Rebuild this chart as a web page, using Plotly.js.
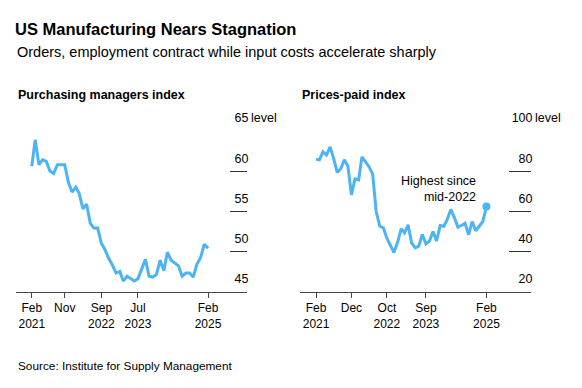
<!DOCTYPE html>
<html>
<head>
<meta charset="utf-8">
<script src="https://cdn.plot.ly/plotly-3.0.1.min.js"></script>
<style>
  html, body { margin: 0; padding: 0; background: #fff; }
  #chart { width: 582px; height: 388px; }
</style>
</head>
<body>
<div id="chart"></div>
<script>
// ---- Data (monthly, Feb 2021 - Feb 2025) ----
const months = [
  '2021-02-01','2021-03-01','2021-04-01','2021-05-01','2021-06-01','2021-07-01','2021-08-01','2021-09-01','2021-10-01','2021-11-01','2021-12-01',
  '2022-01-01','2022-02-01','2022-03-01','2022-04-01','2022-05-01','2022-06-01','2022-07-01','2022-08-01','2022-09-01','2022-10-01','2022-11-01','2022-12-01',
  '2023-01-01','2023-02-01','2023-03-01','2023-04-01','2023-05-01','2023-06-01','2023-07-01','2023-08-01','2023-09-01','2023-10-01','2023-11-01','2023-12-01',
  '2024-01-01','2024-02-01','2024-03-01','2024-04-01','2024-05-01','2024-06-01','2024-07-01','2024-08-01','2024-09-01','2024-10-01','2024-11-01','2024-12-01',
  '2025-01-01','2025-02-01'
];

const pmi = [
  60.6, 63.9, 60.8, 61.4, 61.2, 60.0, 59.7, 60.8, 60.8, 60.8, 58.6,
  57.4, 58.0, 57.2, 55.3, 55.9, 53.5, 52.9, 52.9, 51.0, 50.2, 49.1, 48.3,
  47.3, 47.5, 46.3, 46.9, 46.6, 46.3, 46.6, 47.8, 49.0, 46.9, 46.8, 47.1,
  48.9, 47.6, 49.9, 48.9, 48.5, 48.2, 46.9, 47.3, 47.3, 46.8, 48.4, 49.2,
  50.9, 50.4
];

const pricesPaid = [
  86.0, 85.6, 89.6, 88.0, 92.1, 86.5, 79.4, 81.2, 85.7, 82.4, 68.2,
  76.1, 75.6, 87.1, 84.6, 82.2, 78.5, 60.0, 52.5, 51.7, 46.6, 43.0, 39.4,
  44.5, 51.3, 49.2, 53.2, 44.2, 41.8, 42.6, 48.4, 43.8, 45.1, 49.9, 45.2,
  52.9, 52.5, 55.8, 60.9, 57.0, 52.1, 52.9, 54.0, 48.3, 54.8, 50.3, 52.5,
  54.9, 62.4
];

// Tick values / labels
const pmiXTicks = ['2021-02-01','2021-11-01','2022-09-01','2023-07-01','2025-02-01'];
const pmiXLabels = ['Feb<br>2021','Nov','Sep<br>2022','Jul<br>2023','Feb<br>2025'];
const ppXTicks = ['2021-02-01','2021-12-01','2022-10-01','2023-09-01','2025-02-01'];
const ppXLabels = ['Feb<br>2021','Dec','Oct<br>2022','Sep<br>2023','Feb<br>2025'];
const pmiYTicks = [45, 50, 55, 60, 65];
const ppYTicks = [20, 40, 60, 80, 100];

// Text
const titleText = 'US Manufacturing Nears Stagnation';
const subtitleText = 'Orders, employment contract while input costs accelerate sharply';
const leftPanelTitle = 'Purchasing managers index';
const rightPanelTitle = 'Prices-paid index';
const sourceText = 'Source: Institute for Supply Management';
const calloutText = 'Highest since<br>mid-2022';
const unitText = 'level';

// ---- Styling ----
const W = 582, H = 388;
const FONT = 'Liberation Sans, Arial, Helvetica, sans-serif';
const LINE = '#4cb3f5';
const AXIS = '#444444';
const TICK = '#333333';
const px = v => v / W;
const py = v => 1 - v / H;

const last = months.length - 1;

const traces = [
  { type: 'scatter', mode: 'lines', x: months, y: pmi, xaxis: 'x', yaxis: 'y',
    line: { color: LINE, width: 3 }, hoverinfo: 'skip' },
  { type: 'scatter', mode: 'lines', x: months, y: pricesPaid, xaxis: 'x2', yaxis: 'y2',
    line: { color: LINE, width: 3 }, hoverinfo: 'skip' },
  { type: 'scatter', mode: 'markers', x: [months[last]], y: [pricesPaid[last]], xaxis: 'x2', yaxis: 'y2',
    marker: { color: LINE, size: 8 }, hoverinfo: 'skip' }
];

function xAxis(domain, range, vals, texts) {
  return {
    type: 'date', domain: domain, range: range,
    tickmode: 'array', tickvals: vals, ticktext: texts,
    showgrid: false, zeroline: false,
    showline: true, linecolor: AXIS, linewidth: 1,
    ticks: 'outside', ticklen: 5, tickcolor: AXIS, tickwidth: 1,
    tickfont: { size: 12, color: '#000', family: FONT },
    fixedrange: true
  };
}
function yAxis(anchor, range, vals, tlen) {
  return {
    anchor: anchor, side: 'right', domain: [py(291.5), py(131)], range: range,
    tickmode: 'array', tickvals: vals,
    showgrid: false, zeroline: false, showline: false,
    ticks: 'inside', ticklen: tlen, tickcolor: TICK, tickwidth: 1,
    ticklabelposition: 'inside', ticklabeloverflow: 'allow',
    ticklabelshift: -13, ticklabelstandoff: -tlen - 2,
    tickfont: { size: 12.5, color: '#000', family: FONT },
    fixedrange: true
  };
}

const layout = {
  width: W, height: H,
  margin: { l: 0, r: 0, t: 0, b: 0 },
  paper_bgcolor: '#ffffff', plot_bgcolor: 'rgba(0,0,0,0)',
  showlegend: false,
  font: { family: FONT, color: '#000' },
  title: {
    text: '<b>' + titleText + '</b>',
    x: px(15), xref: 'paper', xanchor: 'left',
    y: py(29.5), yref: 'container', yanchor: 'middle',
    font: { size: 16.5, family: FONT, color: '#000' }
  },
  xaxis: xAxis([px(16), px(247)], ['2020-09-23', '2025-12-21'], pmiXTicks, pmiXLabels),
  yaxis: yAxis('x', [45, 65], pmiYTicks, 17),
  xaxis2: xAxis([px(300), px(531)], ['2020-09-16', '2026-02-18'], ppXTicks, ppXLabels),
  yaxis2: yAxis('x2', [20, 100], ppYTicks, 22),
  annotations: [
    { text: subtitleText, xref: 'paper', yref: 'paper', x: px(15), y: py(52), xanchor: 'left', yanchor: 'middle',
      showarrow: false, font: { size: 14.5, family: FONT, color: '#000' } },
    { text: '<b>' + leftPanelTitle + '</b>', xref: 'paper', yref: 'paper', x: px(16), y: py(94.5), xanchor: 'left', yanchor: 'middle',
      showarrow: false, font: { size: 12.5, family: FONT, color: '#000' } },
    { text: '<b>' + rightPanelTitle + '</b>', xref: 'paper', yref: 'paper', x: px(300), y: py(94.5), xanchor: 'left', yanchor: 'middle',
      showarrow: false, font: { size: 12.5, family: FONT, color: '#000' } },
    { text: unitText, xref: 'x domain', yref: 'y', x: 1, y: pmiYTicks[pmiYTicks.length - 1], xanchor: 'left', yanchor: 'middle',
      xshift: 2, yshift: 13, showarrow: false, font: { size: 12.5, family: FONT, color: '#000' } },
    { text: unitText, xref: 'x2 domain', yref: 'y2', x: 1, y: ppYTicks[ppYTicks.length - 1], xanchor: 'left', yanchor: 'middle',
      xshift: 2, yshift: 13, showarrow: false, font: { size: 12.5, family: FONT, color: '#000' } },
    { text: calloutText, xref: 'x2', yref: 'y2', x: months[last], y: pricesPaid[last], xanchor: 'right', yanchor: 'bottom',
      xshift: -8, yshift: 0, align: 'right', showarrow: false, font: { size: 12.5, family: FONT, color: '#000' } },
    { text: sourceText, xref: 'paper', yref: 'paper', x: px(16), y: py(366), xanchor: 'left', yanchor: 'middle',
      showarrow: false, font: { size: 11.8, family: FONT, color: '#000' } }
  ]
};

Plotly.newPlot('chart', traces, layout, { staticPlot: true, displayModeBar: false });
</script>
</body>
</html>
